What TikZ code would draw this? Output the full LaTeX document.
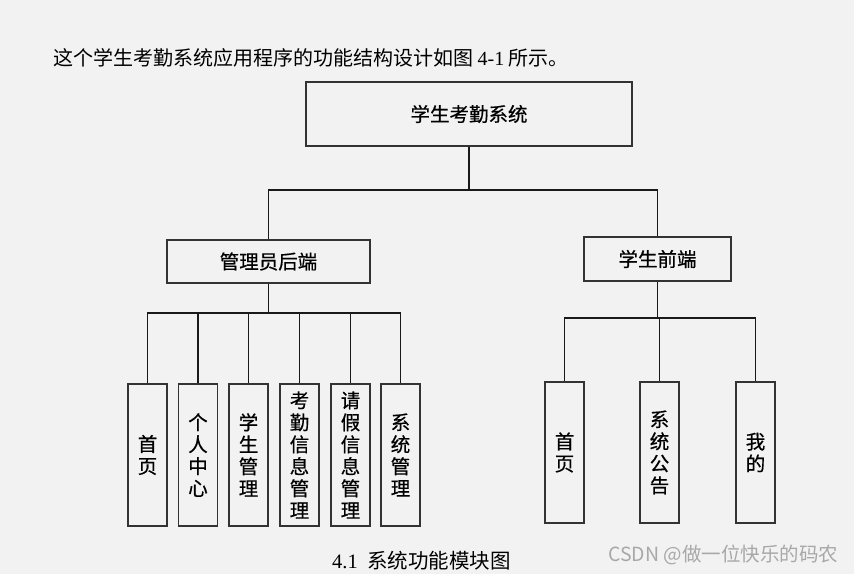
\documentclass[tikz,border=0pt]{standalone}
\usepackage{fontspec}
\newfontfamily\cjk{Noto Sans CJK SC}
\newfontfamily\cjkb[FakeBold=0.6]{Noto Sans CJK SC}
\newfontfamily\lser{Liberation Serif}
\definecolor{bg}{HTML}{F2F2F2}
\definecolor{wm}{HTML}{A8A8A8}
\tikzset{
  box/.style={draw=black!80, line width=1.2pt, fill=bg, inner sep=0pt, align=center,
              font=\cjkb\fontsize{19.5}{22}\selectfont},
  vbox/.style={box, minimum width=39pt, minimum height=142pt},
  conn/.style={draw=black!90, line width=1.2pt},
  txt/.style={inner sep=0pt, anchor=west}
}
\begin{document}
\begin{tikzpicture}[x=1pt,y=-1pt]
\fill[bg] (0,0) rectangle (854,574);
\useasboundingbox (0,0) rectangle (854,574);

\node[txt, font=\cjk\fontsize{20}{22}\selectfont] (intro) at (53,58) {这个学生考勤系统应用程序的功能结构设计如图 {\lser 4-1} 所示。};

\node[box, minimum width=326pt, minimum height=64pt] (top) at (469,114) {学生考勤系统};
\node[box, minimum width=203pt, minimum height=43pt] (admin) at (268.5,261.5) {管理员后端};
\node[box, minimum width=147pt, minimum height=44pt] (stu) at (657.5,259) {学生前端};

\node[vbox] (a1) at (147.5,455) {首\\页};
\node[vbox] (a2) at (198,455) {个\\人\\中\\心};
\node[vbox] (a3) at (248.5,455) {学\\生\\管\\理};
\node[vbox] (a4) at (299.5,455) {考\\勤\\信\\息\\管\\理};
\node[vbox] (a5) at (350.5,455) {请\\假\\信\\息\\管\\理};
\node[vbox] (a6) at (400.5,455) {系\\统\\管\\理};

\node[vbox, minimum height=141pt] (s1) at (564.5,452.5) {首\\页};
\node[vbox, minimum height=141pt] (s2) at (659.5,452.5) {系\\统\\公\\告};
\node[vbox, minimum height=141pt] (s3) at (755.5,452.5) {我\\的};

\coordinate (j1) at (469,190);
\coordinate (j2) at (268.5,313);
\coordinate (j3) at (657.5,318);

\draw[conn] (top.south) -- (j1);
\draw[conn] (j1) -| (admin.north);
\draw[conn] (j1) -| (stu.north);

\draw[conn] (admin.south) -- (j2);
\foreach \n in {a1,a2,a3,a4,a5,a6} \draw[conn] (j2) -| (\n.north);

\draw[conn] (stu.south) -- (j3);
\foreach \n in {s1,s2,s3} \draw[conn] (j3) -| (\n.north);

\node[txt, font=\cjk\fontsize{20.5}{24}\selectfont] (cap) at (332,561) {{\lser 4.1}\ \ 系统功能模块图};
\node[txt, text=wm, font=\cjk\fontsize{19.5}{22}\selectfont] (mark) at (608,555) {CSDN @做一位快乐的码农};
\end{tikzpicture}
\end{document}
